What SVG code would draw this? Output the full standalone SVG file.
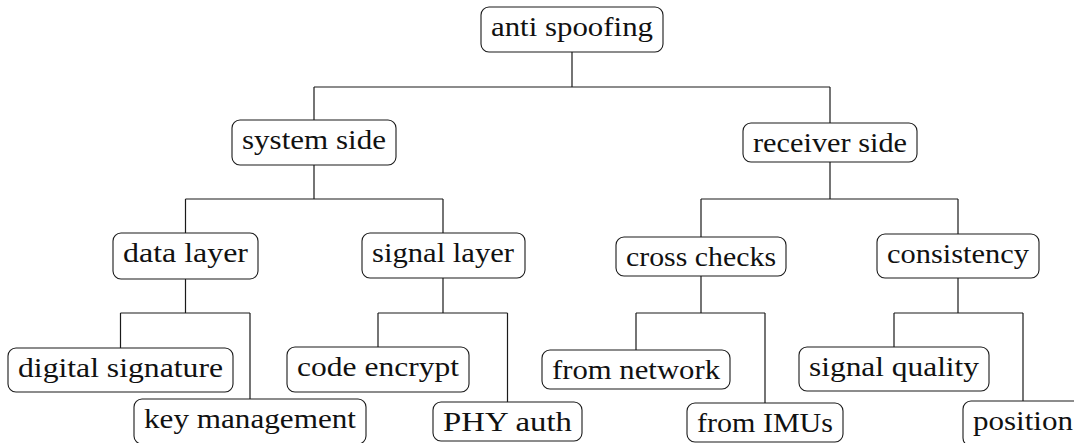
<svg xmlns="http://www.w3.org/2000/svg" width="1074" height="443" viewBox="0 0 1074 443">
  <style>
    .box { fill: #ffffff; stroke: #1a1a1a; stroke-width: 1.1; }
    .lbl { font-family: "Liberation Serif", "Times New Roman", serif; font-size: 28px; fill: #111111; text-anchor: middle; }
    .edge { fill: none; stroke: #1a1a1a; stroke-width: 1.2; }
  </style>
  <rect width="1074" height="443" fill="#ffffff"/>

  <!-- tree connectors (orthogonal elbows) -->
  <g id="connectors">
    <path class="edge" d="M572,52 V87 M314,87 H830 M314,87 V120 M830,87 V123"/>
    <path class="edge" d="M314,165 V199 M185.5,199 H443 M185.5,199 V233 M443,199 V233"/>
    <path class="edge" d="M830,162 V199 M701,199 H958 M701,199 V237 M958,199 V234"/>
    <path class="edge" d="M185.5,279 V313 M120.5,313 H250 M120.5,313 V348 M250,313 V399"/>
    <path class="edge" d="M443,278 V313 M378,313 H507.5 M378,313 V347 M507.5,313 V402"/>
    <path class="edge" d="M701,276 V313 M636,313 H765 M636,313 V350 M765,313 V403"/>
    <path class="edge" d="M958,278 V313 M894,313 H1023 M894,313 V347 M1023,313 V401"/>
  </g>

  <g id="anti-spoofing">
    <rect class="box" x="481" y="7" width="182" height="45" rx="8"/>
    <text class="lbl" x="572" y="36" textLength="162" lengthAdjust="spacingAndGlyphs">anti spoofing</text>
  </g>
  <g id="system-side">
    <rect class="box" x="232" y="120" width="164" height="45" rx="8"/>
    <text class="lbl" x="314" y="149" textLength="144" lengthAdjust="spacingAndGlyphs">system side</text>
  </g>
  <g id="receiver-side">
    <rect class="box" x="743" y="123" width="174" height="39" rx="8"/>
    <text class="lbl" x="830" y="152" textLength="154" lengthAdjust="spacingAndGlyphs">receiver side</text>
  </g>
  <g id="data-layer">
    <rect class="box" x="113" y="233" width="145" height="46" rx="8"/>
    <text class="lbl" x="185.5" y="262" textLength="125" lengthAdjust="spacingAndGlyphs">data layer</text>
  </g>
  <g id="signal-layer">
    <rect class="box" x="362" y="233" width="163" height="45" rx="8"/>
    <text class="lbl" x="443" y="262" textLength="142" lengthAdjust="spacingAndGlyphs">signal layer</text>
  </g>
  <g id="cross-checks">
    <rect class="box" x="616" y="237" width="170" height="39" rx="8"/>
    <text class="lbl" x="701" y="266" textLength="150" lengthAdjust="spacingAndGlyphs">cross checks</text>
  </g>
  <g id="consistency">
    <rect class="box" x="877" y="234" width="162" height="44" rx="8"/>
    <text class="lbl" x="958" y="263" textLength="142" lengthAdjust="spacingAndGlyphs">consistency</text>
  </g>
  <g id="digital-signature">
    <rect class="box" x="8" y="348" width="225" height="44" rx="8"/>
    <text class="lbl" x="120.5" y="377" textLength="205" lengthAdjust="spacingAndGlyphs">digital signature</text>
  </g>
  <g id="key-management">
    <rect class="box" x="134" y="399" width="232" height="45" rx="8"/>
    <text class="lbl" x="250" y="428" textLength="212" lengthAdjust="spacingAndGlyphs">key management</text>
  </g>
  <g id="code-encrypt">
    <rect class="box" x="287" y="347" width="182" height="45" rx="8"/>
    <text class="lbl" x="378" y="376" textLength="162" lengthAdjust="spacingAndGlyphs">code encrypt</text>
  </g>
  <g id="phy-auth">
    <rect class="box" x="433" y="402" width="149" height="39" rx="8"/>
    <text class="lbl" x="507.5" y="431" textLength="129" lengthAdjust="spacingAndGlyphs">PHY auth</text>
  </g>
  <g id="from-network">
    <rect class="box" x="542" y="350" width="188" height="39" rx="8"/>
    <text class="lbl" x="636" y="379" textLength="168" lengthAdjust="spacingAndGlyphs">from network</text>
  </g>
  <g id="from-imus">
    <rect class="box" x="687" y="403" width="156" height="39" rx="8"/>
    <text class="lbl" x="765" y="432" textLength="136" lengthAdjust="spacingAndGlyphs">from IMUs</text>
  </g>
  <g id="signal-quality">
    <rect class="box" x="799" y="347" width="190" height="44" rx="8"/>
    <text class="lbl" x="894" y="376" textLength="170" lengthAdjust="spacingAndGlyphs">signal quality</text>
  </g>
  <g id="position">
    <rect class="box" x="963" y="401" width="120" height="45" rx="8"/>
    <text class="lbl" x="1023" y="430" textLength="100" lengthAdjust="spacingAndGlyphs">position</text>
  </g>
</svg>
